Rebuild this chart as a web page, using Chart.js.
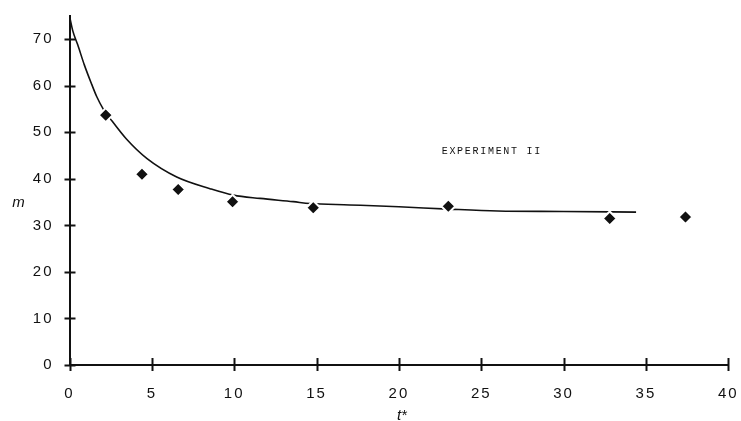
<!DOCTYPE html>
<html>
<head>
<meta charset="utf-8">
<script src="https://cdn.jsdelivr.net/npm/chart.js@4/dist/chart.umd.min.js"></script>
<style>
  html, body { margin: 0; padding: 0; background: #fff; }
  #wrap { width: 741px; height: 421px; }
</style>
</head>
<body>
<div id="wrap"><canvas id="c" width="741" height="421"></canvas></div>
<script>
// Measured points (t*, m)
const pointsT = [2.2, 4.4, 6.6, 9.9, 14.8, 23.0, 32.8, 37.4];
const pointsM = [53.7, 41.0, 37.7, 35.1, 33.8, 34.1, 31.5, 31.8];

// Fitted curve
const curveT = [0, 0.2, 0.5, 0.9, 1.35, 1.65, 2.05, 2.46, 3.47, 4.69, 6.51, 8.53, 9.95, 11.57, 13.59, 14.6, 17, 20, 23, 26, 30, 34.4];
const curveM = [75, 71.8, 68.8, 64.5, 60.3, 57.7, 55.0, 53.0, 48.5, 44.4, 40.4, 37.9, 36.5, 35.8, 35.1, 34.7, 34.4, 34.0, 33.5, 33.1, 33.0, 32.85];

// Axis ticks
const xTicks = [0, 5, 10, 15, 20, 25, 30, 35, 40];
const yTicks = [0, 10, 20, 30, 40, 50, 60, 70];

const xTitle = 't*';
const yTitle = 'm';
const annotation = 'EXPERIMENT II';
const annotationAt = { t: 22.6, m: 45.4 };

const ink = '#111';

const deco = {
  id: 'deco',
  beforeDraw(chart) {
    chart.ctx.letterSpacing = '2px';
  },
  afterDraw(chart) {
    const { ctx, chartArea: a, scales: { x, y } } = chart;
    ctx.save();
    ctx.strokeStyle = ink;
    ctx.lineWidth = 2;
    xTicks.forEach(v => {
      const px = Math.round(x.getPixelForValue(v)) + 0.5;
      ctx.beginPath();
      ctx.moveTo(px, a.bottom - 7);
      ctx.lineTo(px, a.bottom + 6);
      ctx.stroke();
    });
    yTicks.forEach(v => {
      const py = Math.round(y.getPixelForValue(v)) + 0.5;
      ctx.beginPath();
      ctx.moveTo(a.left - 5, py);
      ctx.lineTo(a.left + 6, py);
      ctx.stroke();
    });
    ctx.fillStyle = ink;
    ctx.letterSpacing = '0px';
    ctx.font = 'italic 15px "Liberation Sans", Arial, sans-serif';
    ctx.textAlign = 'center';
    ctx.textBaseline = 'alphabetic';
    ctx.fillText(xTitle, x.getPixelForValue(20) + 3, a.bottom + 55);
    ctx.fillText(yTitle, a.left - 51, y.getPixelForValue(34));
    ctx.letterSpacing = '1.7px';
    ctx.font = '10px "Liberation Mono", "DejaVu Sans Mono", monospace';
    ctx.textAlign = 'left';
    ctx.fillText(annotation, x.getPixelForValue(annotationAt.t), y.getPixelForValue(annotationAt.m));
    ctx.restore();
  }
};

const pts = pointsT.map((t, i) => ({ x: t, y: pointsM[i] }));
const curve = curveT.map((t, i) => ({ x: t, y: curveM[i] }));

function zeroPad(s) {
  s.paddingLeft = 0; s.paddingRight = 0; s.paddingTop = 0; s.paddingBottom = 0;
}

new Chart(document.getElementById('c'), {
  type: 'scatter',
  data: {
    datasets: [
      {
        data: pts,
        pointStyle: 'rectRot',
        pointRadius: 7,
        pointHoverRadius: 7,
        backgroundColor: ink,
        borderColor: '#fff',
        borderWidth: 2,
        showLine: false
      },
      {
        data: curve,
        showLine: true,
        pointRadius: 0,
        borderColor: ink,
        borderWidth: 1.6,
        tension: 0.3,
        cubicInterpolationMode: 'monotone',
        fill: false
      }
    ]
  },
  options: {
    responsive: false,
    devicePixelRatio: 1,
    animation: false,
    events: [],
    layout: { padding: { top: 16, right: 12.7, left: 0, bottom: 0 } },
    plugins: { legend: { display: false }, tooltip: { enabled: false }, title: { display: false } },
    scales: {
      x: {
        type: 'linear',
        min: 0, max: 40,
        afterBuildTicks: s => { s.ticks = xTicks.map(v => ({ value: v })); },
        afterFit: s => { s.height = 56; zeroPad(s); },
        grid: { display: false },
        border: { display: true, color: ink, width: 2 },
        ticks: {
          color: ink,
          padding: 12,
          maxRotation: 0,
          font: { family: '"Liberation Sans", Arial, sans-serif', size: 15 }
        }
      },
      y: {
        type: 'linear',
        min: 0, max: 75,
        afterBuildTicks: s => { s.ticks = yTicks.map(v => ({ value: v })); },
        afterFit: s => { s.width = 69.5; zeroPad(s); },
        grid: { display: false },
        border: { display: true, color: ink, width: 2 },
        ticks: {
          color: ink,
          padding: 8,
          font: { family: '"Liberation Sans", Arial, sans-serif', size: 15 }
        }
      }
    }
  },
  plugins: [deco]
});
</script>
</body>
</html>
